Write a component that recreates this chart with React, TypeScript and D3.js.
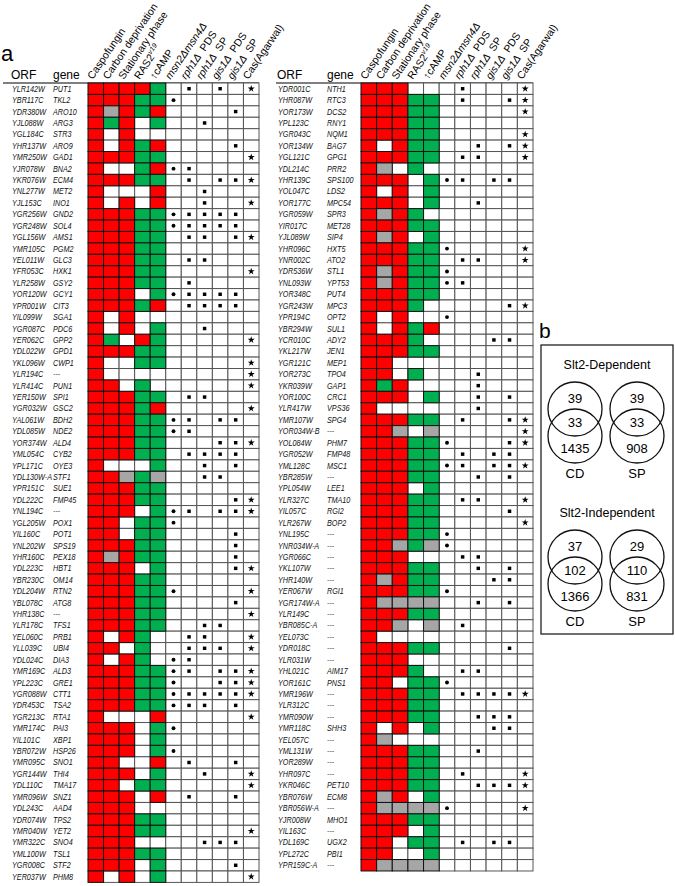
import React from "react";
import * as d3 from "d3";

const W = 675;
const H = 886;
const FONT = "Arial, 'Liberation Sans', Helvetica, sans-serif";

// ---------- column header labels ----------
type Seg = { t: string; i?: boolean; sup?: boolean };
const columnLabels: Seg[][] = [
  [{ t: "Caspofungin" }],
  [{ t: "Carbon deprivation" }],
  [{ t: "Stationary phase" }],
  [{ t: "RAS2" }, { t: "v19", i: true, sup: true }],
  [{ t: "\u2191cAMP" }],
  [{ t: "msn2\u0394msn4\u0394", i: true }],
  [{ t: "rph1\u0394", i: true }, { t: "\u00a0\u00a0PDS" }],
  [{ t: "rph1\u0394", i: true }, { t: "\u00a0\u00a0SP" }],
  [{ t: "gis1\u0394", i: true }, { t: "\u00a0\u00a0PDS" }],
  [{ t: "gis1\u0394", i: true }, { t: "\u00a0\u00a0SP" }],
  [{ t: "Cas(Agarwal)" }],
];
// marker type for columns 5..10
const markerTypes = ["circle", "square", "square", "square", "square", "star"];

// ---------- left table ----------
const leftOrf = [
  "YLR142W", "YBR117C", "YDR380W", "YJL088W", "YGL184C", "YHR137W", "YMR250W", "YJR078W", "YKR076W", "YNL277W",
  "YJL153C", "YGR256W", "YGR248W", "YGL156W", "YMR105C", "YEL011W", "YFR053C", "YLR258W", "YOR120W", "YPR001W",
  "YIL099W", "YGR087C", "YER062C", "YDL022W", "YKL096W", "YLR194C", "YLR414C", "YER150W", "YGR032W", "YAL061W",
  "YDL085W", "YOR374W", "YML054C", "YPL171C", "YDL130W-A", "YPR151C", "YDL222C", "YNL194C", "YGL205W", "YIL160C",
  "YNL202W", "YHR160C", "YDL223C", "YBR230C", "YDL204W", "YBL078C", "YHR138C", "YLR178C", "YEL060C", "YLL039C",
  "YDL024C", "YMR169C", "YPL223C", "YGR088W", "YDR453C", "YGR213C", "YMR174C", "YIL101C", "YBR072W", "YMR095C",
  "YGR144W", "YDL110C", "YMR096W", "YDL243C", "YDR074W", "YMR040W", "YMR322C", "YML100W", "YGR008C", "YER037W",
];
const leftGene = [
  "PUT1", "TKL2", "ARO10", "ARG3", "STR3", "ARO9", "GAD1", "BNA2", "ECM4", "MET2",
  "INO1", "GND2", "SOL4", "AMS1", "PGM2", "GLC3", "HXK1", "GSY2", "GCY1", "CIT3",
  "SGA1", "PDC6", "GPP2", "GPD1", "CWP1", "---", "PUN1", "SPI1", "GSC2", "BDH2",
  "NDE2", "ALD4", "CYB2", "OYE3", "STF1", "SUE1", "FMP45", "---", "POX1", "POT1",
  "SPS19", "PEX18", "HBT1", "OM14", "RTN2", "ATG8", "---", "TFS1", "PRB1", "UBI4",
  "DIA3", "ALD3", "GRE1", "CTT1", "TSA2", "RTA1", "PAI3", "XBP1", "HSP26", "SNO1",
  "THI4", "TMA17", "SNZ1", "AAD4", "TPS2", "YET2", "SNO4", "TSL1", "STF2", "PHM8",
];
// R = up (red), G = down (green), X = n.d. (grey), W = no change
const leftColors = [
  "RRRRG", "RRRGG", "RXRGR", "RGRWG", "RWRWW", "RWRGR", "RRRGG", "RWWGR", "RRRGG", "RWWWR",
  "RWRWR", "RRRGG", "RRRGG", "RRRGG", "RRRGG", "RRRGG", "RRRGG", "RRRGG", "RRRWG", "RRRGR",
  "RWRWW", "RWRWG", "RGWRG", "RRRGG", "RWWGG", "RWWWW", "RRWGW", "RRRGG", "RRRGR", "RRRGG",
  "RRRGG", "RRRGG", "RRRGG", "RWWWG", "RRXGX", "RRRGG", "RRRGG", "RRRWG", "RRWGG", "RRWGG",
  "RRRGG", "RXRGG", "RRRWG", "RRRGG", "RRRGG", "RRRGG", "RRRGG", "RRRGG", "RWRGW", "RRWGW",
  "RWRGW", "RRRGG", "RRRGG", "RRRGG", "RRRGG", "RWWWR", "RRRWG", "RRRWG", "RRRWG", "RRWWR",
  "RRRWG", "RRWGG", "RRRWR", "RRRWW", "RRRGG", "RRRGG", "RRRWW", "RRRGG", "RRRWG", "RWRWG",
];
// msn2, rph1 PDS, rph1 SP, gis1 PDS, gis1 SP, Cas(Agarwal)
const leftMarks = [
  "010101", "100000", "000010", "001000", "000000", "000010", "000001", "110000", "010111", "001000",
  "001001", "111110", "111110", "011011", "000000", "011000", "000001", "010000", "111110", "011110",
  "000000", "001000", "000001", "000000", "000001", "000001", "000001", "011000", "000001", "110110",
  "110000", "000111", "011110", "001010", "001100", "000000", "000011", "110111", "100000", "000010",
  "000010", "000010", "000011", "000000", "100001", "000010", "000001", "001100", "011001", "011101",
  "110000", "110111", "100111", "111111", "111010", "000001", "100000", "000000", "100000", "010010",
  "001001", "000001", "010010", "000000", "000000", "000001", "001110", "000000", "000010", "000001",
];

// ---------- right table ----------
const rightOrf = [
  "YDR001C", "YHR087W", "YOR173W", "YPL123C", "YGR043C", "YOR134W", "YGL121C", "YDL214C", "YHR139C", "YOL047C",
  "YOR177C", "YGR059W", "YIR017C", "YJL089W", "YHR096C", "YNR002C", "YDR536W", "YNL093W", "YOR348C", "YGR243W",
  "YPR194C", "YBR294W", "YCR010C", "YKL217W", "YGR121C", "YOR273C", "YKR039W", "YOR100C", "YLR417W", "YMR107W",
  "YOR034W-B", "YOL084W", "YGR052W", "YML128C", "YBR285W", "YPL054W", "YLR327C", "YIL057C", "YLR267W", "YNL195C",
  "YNR034W-A", "YGR066C", "YKL107W", "YHR140W", "YER067W", "YGR174W-A", "YLR149C", "YBR085C-A", "YEL073C", "YDR018C",
  "YLR031W", "YHL021C", "YOR161C", "YMR196W", "YLR312C", "YMR090W", "YMR118C", "YEL057C", "YML131W", "YOR289W",
  "YHR097C", "YKR046C", "YBR076W", "YBR056W-A", "YJR008W", "YIL163C", "YDL169C", "YPL272C", "YPR159C-A",
];
const rightGene = [
  "NTH1", "RTC3", "DCS2", "RNY1", "NQM1", "BAG7", "GPG1", "PRR2", "SPS100", "LDS2",
  "MPC54", "SPR3", "MET28", "SIP4", "HXT5", "ATO2", "STL1", "YPT53", "PUT4", "MPC3",
  "OPT2", "SUL1", "ADY2", "JEN1", "MEP1", "TPO4", "GAP1", "CRC1", "VPS36", "SPG4",
  "---", "PHM7", "FMP48", "MSC1", "---", "LEE1", "TMA10", "RGI2", "BOP2", "---",
  "---", "---", "---", "---", "RGI1", "---", "---", "---", "---", "---",
  "---", "AIM17", "PNS1", "---", "---", "---", "SHH3", "---", "---", "---",
  "---", "PET10", "ECM8", "---", "MHO1", "---", "UGX2", "PBI1", "---",
];
const rightColors = [
  "RRRWW", "RRRGG", "RRRGG", "RRRGG", "RRRGG", "RWRGG", "RRRGG", "RXWGW", "RRRWG", "RWRWG",
  "RRRWG", "RXRGW", "RRRGG", "RXRWG", "RRRGG", "RRRGG", "RXRGG", "RXRGG", "RRRGG", "RRRGW",
  "RWRWW", "RWRGR", "RRRGW", "RRRGG", "RRWWW", "RRWGW", "RGRWW", "RRRWG", "RWWWW", "RRRGG",
  "RRXWX", "RRRGG", "RRRGG", "RRRGG", "RRRGG", "RRRWG", "RRRGG", "RRRGG", "RRRGG", "RRRGG",
  "RRXGX", "RRRWW", "RRRGG", "RXRGG", "RRRGG", "RXXXX", "RRRGG", "RRXWX", "RWWWW", "RRRGG",
  "RRRWW", "RRRGW", "RRWGG", "RRRGG", "RRRGG", "RRRGG", "RWRWG", "RXWWW", "RRRGG", "RRRGG",
  "RRRGG", "RRRGG", "RXRWG", "RXXXX", "RRRGG", "RRRWG", "RRWGG", "RRWWG", "RXXXX",
];
const rightMarks = [
  "010001", "010011", "000001", "000000", "000001", "001011", "011001", "000000", "110110", "000000",
  "001000", "000000", "000000", "000000", "100001", "011001", "100000", "110000", "000000", "000011",
  "100000", "000000", "000110", "000000", "000000", "001000", "001000", "001010", "001000", "010011",
  "000001", "100011", "010110", "110111", "001010", "000000", "011001", "000010", "000001", "100000",
  "100000", "011000", "001010", "000110", "100000", "001010", "000000", "010000", "000000", "000010",
  "000000", "011000", "100000", "011111", "000000", "001110", "000110", "000000", "001000", "000000",
  "010001", "001111", "000000", "100001", "000000", "000000", "010110", "000000", "000000",
];

// ---------- Venn (panel b) ----------
const vennTitles = ["Slt2-Dependent", "Slt2-Independent"];
const vennSets = ["CD", "SP"];
const vennTop = [[39, 39], [37, 29]];
const vennMid = [[33, 33], [102, 110]];
const vennBottom = [[1435, 908], [1366, 831]];

const CELL_COLORS: Record<string, string> = {
  R: "#ff0000",
  G: "#00b050",
  X: "#a6a6a6",
  W: "#ffffff",
};

const TOP = 83;
const ROW_H = 11.42;

type TableProps = {
  orfX: number;
  geneX: number;
  lineX0: number;
  cellX0: number;
  cellX1: number;
  labelDx: number;
  orfs: string[];
  genes: string[];
  colors: string[];
  marks: string[];
};

function Table(p: TableProps) {
  const n = p.orfs.length;
  const x = d3.scaleBand<number>().domain(d3.range(11)).range([p.cellX0, p.cellX1]);
  const y = d3.scaleBand<number>().domain(d3.range(n)).range([TOP, TOP + n * ROW_H]);
  const bw = x.bandwidth();
  const bh = y.bandwidth();
  const sym = {
    circle: d3.symbol().type(d3.symbolCircle).size(12)()!,
    square: d3.symbol().type(d3.symbolSquare).size(12)()!,
    star: d3.symbol().type(d3.symbolStar).size(15)()!,
  } as Record<string, string>;

  return (
    <g>
      {/* column header labels */}
      {columnLabels.map((segs, i) => (
        <text
          key={"h" + i}
          transform={`translate(${x(i)! + bw / 2 + p.labelDx},${TOP - 3}) rotate(-56)`}
          fontSize={10.5}
          fontFamily={FONT}
          fill="#000"
        >
          {segs.map((s, j) => (
            <tspan
              key={j}
              fontStyle={s.i ? "italic" : "normal"}
              fontSize={s.sup ? 7 : 10.5}
              dy={s.sup ? -4.5 : 0}
            >
              {s.t}
            </tspan>
          ))}
        </text>
      ))}
      <text x={p.orfX - 1} y={TOP - 4} fontSize={12} fontFamily={FONT}>ORF</text>
      <text x={p.geneX} y={TOP - 4} fontSize={12} fontFamily={FONT}>gene</text>
      <line x1={p.lineX0} x2={p.cellX1} y1={TOP} y2={TOP} stroke="#000" strokeWidth={1} />
      {/* row labels */}
      {p.orfs.map((o, r) => (
        <g key={"l" + r} fontFamily={FONT} fontStyle="italic" fontSize={8.4} fill="#111">
          <text transform={`translate(${p.orfX},${y(r)! + bh / 2 + 3}) scale(0.86,1)`}>{o}</text>
          <text transform={`translate(${p.geneX},${y(r)! + bh / 2 + 3}) scale(0.86,1)`}>{p.genes[r]}</text>
        </g>
      ))}
      {/* white cells first, then coloured cells on top */}
      {p.colors.map((row, r) =>
        d3.range(11).map((c) => {
          const code = c < 5 ? row[c] : "W";
          if (code !== "W") return null;
          return (
            <rect key={`w${r}-${c}`} x={x(c)} y={y(r)} width={bw} height={bh}
              fill="#fff" stroke="#555" strokeWidth={1} />
          );
        })
      )}
      {p.colors.map((row, r) =>
        d3.range(5).map((c) => {
          const code = row[c];
          if (code === "W") return null;
          return (
            <rect key={`c${r}-${c}`} x={x(c)} y={y(r)} width={bw} height={bh}
              fill={CELL_COLORS[code]} stroke="#111" strokeWidth={1} />
          );
        })
      )}
      {p.marks.map((row, r) =>
        d3.range(6).map((k) => {
          if (row[k] !== "1") return null;
          const c = k + 5;
          return (
            <path key={`m${r}-${k}`} d={sym[markerTypes[k]]}
              transform={`translate(${x(c)! + bw / 2},${y(r)! + bh / 2})`} fill="#000" />
          );
        })
      )}
    </g>
  );
}

function Venn() {
  const bx = 541, by = 345, bwid = 132, bht = 289;
  const cxs = [575, 637];
  const r = 27;
  const blocks = [369, 517];
  return (
    <g fontFamily={FONT}>
      <text x={539} y={338} fontSize={21}>b</text>
      <rect x={bx} y={by} width={bwid} height={bht} fill="none" stroke="#222" strokeWidth={1.3} />
      {vennTitles.map((t, g) => {
        const T = blocks[g];
        const c1 = T + 40;
        const c2 = c1 + 27;
        return (
          <g key={t}>
            <text x={bx + bwid / 2} y={T} fontSize={12.5} textAnchor="middle">{t}</text>
            {vennSets.map((s, k) => (
              <g key={s}>
                <circle cx={cxs[k]} cy={c1} r={r} fill="none" stroke="#111" strokeWidth={1.3} />
                <circle cx={cxs[k]} cy={c2} r={r} fill="none" stroke="#111" strokeWidth={1.3} />
                <text x={cxs[k]} y={c1 - 6} fontSize={13} textAnchor="middle">{vennTop[g][k]}</text>
                <text x={cxs[k]} y={c1 + 18} fontSize={13} textAnchor="middle">{vennMid[g][k]}</text>
                <text x={cxs[k]} y={c1 + 44} fontSize={13} textAnchor="middle">{vennBottom[g][k]}</text>
                <text x={cxs[k]} y={c2 + 42} fontSize={13} textAnchor="middle">{s}</text>
              </g>
            ))}
          </g>
        );
      })}
    </g>
  );
}

export default function App() {
  return (
    <svg width={W} height={H} viewBox={`0 0 ${W} ${H}`}
      style={{ position: "absolute", left: 0, top: 0, background: "#fff" }}>
      <rect width={W} height={H} fill="#fff" />
      <text x={1} y={61} fontSize={22} fontFamily={FONT}>a</text>
      <Table orfX={12} geneX={53} lineX0={3} cellX0={88} cellX1={259} labelDx={-3}
        orfs={leftOrf} genes={leftGene} colors={leftColors} marks={leftMarks} />
      <Table orfX={278} geneX={327} lineX0={276} cellX0={361} cellX1={533} labelDx={-3}
        orfs={rightOrf} genes={rightGene} colors={rightColors} marks={rightMarks} />
      <Venn />
    </svg>
  );
}
